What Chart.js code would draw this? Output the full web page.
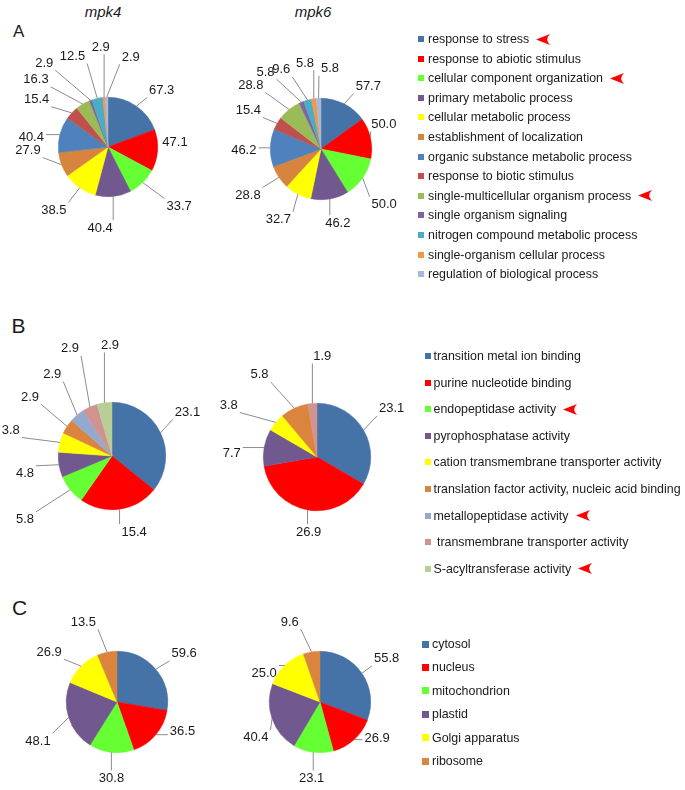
<!DOCTYPE html>
<html lang="en">
<head>
<meta charset="UTF-8">
<title>GO categories mpk4 / mpk6</title>
<script src="https://cdn.jsdelivr.net/npm/chart.js"></script>
<style>
  body { margin:0; width:685px; height:790px; position:relative; overflow:hidden; background:#fff;
         font-family:"Liberation Sans", Arial, sans-serif; color:#1a1a1a; }
  .pie { position:absolute; }
  .panel { position:absolute; line-height:1; }
  .title { position:absolute; font-size:15px; line-height:1; font-style:italic; transform:translateX(-50%); }
  .legend { position:absolute; font-size:12.4px; }
  .legend .row { position:absolute; left:0; display:flex; align-items:center; white-space:pre; transform:translateY(-50%); }
  .legend .sw { flex:none; }
  .legend svg { margin-left:7px; }
</style>
</head>
<body>
  <div class="panel" style="left:13px; top:22.6px; font-size:17px;">A</div>
  <div class="panel" style="left:11.5px; top:315px; font-size:21px;">B</div>
  <div class="panel" style="left:12px; top:597px; font-size:21px;">C</div>
  <div class="title" style="left:103px; top:3.5px;">mpk4</div>
  <div class="title" style="left:313px; top:3.5px;">mpk6</div>

<script>
// A: biological process
const bpCategories = ['response to stress', 'response to abiotic stimulus', 'cellular component organization',
  'primary metabolic process', 'cellular metabolic process', 'establishment of localization',
  'organic substance metabolic process', 'response to biotic stimulus', 'single-multicellular organism process',
  'single organism signaling', 'nitrogen compound metabolic process', 'single-organism cellular process',
  'regulation of biological process'];
const bpMpk4 = [67.3, 47.1, 33.7, 40.4, 38.5, 27.9, 40.4, 15.4, 16.3, 2.9, 12.5, 2.9, 2.9];
const bpMpk6 = [57.7, 50.0, 50.0, 46.2, 32.7, 28.8, 46.2, 15.4, 28.8, 5.8, 9.6, 5.8, 5.8];
const bpFlagged = [0, 2, 8];

// B: molecular function
const mfCategories = ['transition metal ion binding', 'purine nucleotide binding', 'endopeptidase activity',
  'pyrophosphatase activity', 'cation transmembrane transporter activity',
  'translation factor activity, nucleic acid binding', 'metallopeptidase activity',
  ' transmembrane transporter activity', 'S-acyltransferase activity'];
const mfMpk4 = [23.1, 15.4, 5.8, 4.8, 3.8, 2.9, 2.9, 2.9, 2.9];
const mfMpk6 = [23.1, 26.9, 0, 7.7, 3.8, 5.8, 0, 1.9, 0];
const mfFlagged = [2, 6, 8];

// C: cellular component
const ccCategories = ['cytosol', 'nucleus', 'mitochondrion', 'plastid', 'Golgi apparatus', 'ribosome'];
const ccMpk4 = [59.6, 36.5, 30.8, 48.1, 26.9, 13.5];
const ccMpk6 = [55.8, 26.9, 23.1, 40.4, 25.0, 9.6];
const ccFlagged = [];

const bpColors = ['#4572A7', '#FF0000', '#66FF33', '#71588F', '#FFFF00', '#D7853E', '#4F81BD',
  '#C0504D', '#9BBB59', '#8064A2', '#4BACC6', '#F79646', '#A7B9DB'];
const mfColors = ['#4572A7', '#FF0000', '#66FF33', '#71588F', '#FFFF00', '#DB843D', '#93A9CF',
  '#D19392', '#B9CD96'];
const ccColors = ['#4572A7', '#FF0000', '#66FF33', '#71588F', '#FFFF00', '#DB843D'];

// where each data label sits, relative to its pie centre (Excel "best fit" layout)
const spotsBp4 = [[53.7, -57], [67, -5.3], [71.2, 59], [-7.8, 80.7], [-54.2, 63], [-80, 3], [-76.7, -10.3],
  [-71.3, -47.7], [-72, -67.7], [-63.8, -84.3], [-35.5, -91], [-7.2, -100.3], [22.8, -90.3]];
const spotsBp6 = [[47.3, -63], [62.8, -25], [63.2, 55], [16.8, 73.7], [-42.7, 70.3], [-73, 46], [-77.2, 1],
  [-72.7, -39], [-70.2, -64], [-55.5, -77.3], [-39.7, -79.7], [-16, -86.3], [9, -80.7]];
const spotsMf4 = [[75.5, -44.3], [22.2, 75.7], [-87, 63.3], [-87, 17.3], [-101.2, -26], [-82, -59.3],
  [-59.8, -82], [-42, -107.7], [-2, -111]];
const spotsMf6 = [[74.7, -48.7], [-8.3, 74.7], null, [-85.3, -3.7], [-88.2, -52], [-57.5, -82.7], null,
  [5.2, -101], null];
const spotsCc4 = [[67.2, -48.7], [65.5, 29], [-5.5, 76], [-79, 38.7], [-67.8, -50.3], [-33.7, -80.3]];
const spotsCc6 = [[66.7, -43.7], [57.2, 35.7], [-8.3, 76], [-64.2, 35.3], [-55.8, -29.3], [-30.3, -80.3]];

const LABEL_FONT = '13px "Liberation Sans", Arial, sans-serif';

const outsideLabels = {
  id: 'outsideLabels',
  afterDatasetsDraw(chart, args, opts) {
    const ctx = chart.ctx;
    const meta = chart.getDatasetMeta(0);
    const vals = chart.data.datasets[0].data;
    const spots = opts.spots || [];
    ctx.save();
    ctx.font = LABEL_FONT;
    ctx.strokeStyle = '#8c8c8c';
    ctx.lineWidth = 1;
    ctx.fillStyle = '#1a1a1a';
    ctx.textAlign = 'center';
    ctx.textBaseline = 'middle';
    meta.data.forEach((arc, i) => {
      if (!vals[i]) return;
      const p = arc.getProps(['x', 'y', 'startAngle', 'endAngle', 'outerRadius'], true);
      const mid = (p.startAngle + p.endAngle) / 2;
      const text = vals[i].toFixed(1);
      const w = ctx.measureText(text).width, h = 11;
      let lx, ly;
      if (spots[i]) {
        lx = p.x + spots[i][0];
        ly = p.y + spots[i][1];
      } else {
        const R = p.outerRadius + 20;
        lx = p.x + Math.cos(mid) * (R + w / 2);
        ly = p.y + Math.sin(mid) * (R + h / 2);
      }
      // leader from the slice edge to the closest point of the label box
      const ex = p.x + Math.cos(mid) * p.outerRadius;
      const ey = p.y + Math.sin(mid) * p.outerRadius;
      const nx = Math.min(Math.max(ex, lx - w / 2 - 2), lx + w / 2 + 2);
      const ny = Math.min(Math.max(ey, ly - h / 2 - 2), ly + h / 2 + 2);
      if (Math.hypot(nx - ex, ny - ey) > 4) {
        ctx.beginPath();
        ctx.moveTo(ex, ey);
        ctx.lineTo(nx, ny);
        ctx.stroke();
      }
      ctx.fillText(text, lx, ly + 0.5);
    });
    ctx.restore();
  }
};

const SIZE = 260;
function makePie(values, categories, colors, spots, cx, cy, r) {
  const canvas = document.createElement('canvas');
  canvas.className = 'pie';
  canvas.width = SIZE;
  canvas.height = SIZE;
  canvas.style.left = (cx - SIZE / 2) + 'px';
  canvas.style.top = (cy - SIZE / 2) + 'px';
  document.body.appendChild(canvas);
  new Chart(canvas, {
    type: 'pie',
    data: {
      labels: categories,
      datasets: [{ data: values, backgroundColor: colors, borderColor: colors, borderWidth: 0.5 }]
    },
    options: {
      responsive: false,
      animation: false,
      layout: { padding: SIZE / 2 - r },
      plugins: {
        legend: { display: false },
        tooltip: { enabled: false },
        outsideLabels: { spots: spots }
      }
    },
    plugins: [outsideLabels]
  });
}

function arrowSvg() {
  return '<svg width="14" height="11" viewBox="0 0 14 11"><path d="M0 5.5 L14 0 Q8.5 5.5 14 11 Z" fill="#f00"/></svg>';
}

function makeLegend(categories, colors, flagged, left, top, step, sw, swGap) {
  const box = document.createElement('div');
  box.className = 'legend';
  box.style.left = left + 'px';
  box.style.top = top + 'px';
  categories.forEach((c, i) => {
    const row = document.createElement('div');
    row.className = 'row';
    row.style.top = (i * step) + 'px';
    row.innerHTML = '<span class="sw" style="width:' + sw + 'px;height:' + sw + 'px;margin-right:' + swGap +
      'px;background:' + colors[i] + '"></span><span>' + c + '</span>' +
      (flagged.includes(i) ? arrowSvg() : '');
    box.appendChild(row);
  });
  document.body.appendChild(box);
}

makePie(bpMpk4, bpCategories, bpColors, spotsBp4, 108, 147, 50);
makePie(bpMpk6, bpCategories, bpColors, spotsBp6, 321, 149, 51);
makePie(mfMpk4, mfCategories, mfColors, spotsMf4, 112, 456, 54);
makePie(mfMpk6, mfCategories, mfColors, spotsMf6, 317, 457, 54);
makePie(ccMpk4, ccCategories, ccColors, spotsCc4, 117, 702, 51);
makePie(ccMpk6, ccCategories, ccColors, spotsCc6, 320, 702, 51);

makeLegend(bpCategories, bpColors, bpFlagged, 418, 39, 19.6, 6, 4);
makeLegend(mfCategories, mfColors, mfFlagged, 425, 356, 26.6, 6, 2.5);
makeLegend(ccCategories, ccColors, ccFlagged, 422, 644, 23.4, 7, 3);
</script>
</body>
</html>
